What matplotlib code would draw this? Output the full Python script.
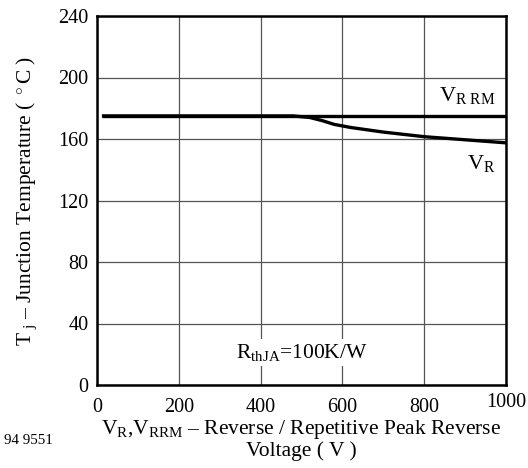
import matplotlib
matplotlib.use("Agg")
import matplotlib.pyplot as plt
from matplotlib.transforms import ScaledTranslation

plt.rcParams['font.family'] = ['Liberation Serif', 'DejaVu Serif']
plt.rcParams['mathtext.fontset'] = 'custom'
plt.rcParams['mathtext.rm'] = 'Liberation Serif'
plt.rcParams['mathtext.it'] = 'Liberation Serif'

# data
vrrm_x = [12, 1000]
vrrm_y = [175, 175]
vr_x = [12, 480, 520, 550, 580, 620, 700, 800, 900, 1000]
vr_y = [175, 175, 174, 172, 169.5, 167.5, 164.5, 161.5, 159.5, 157.5]

x_ticks = [0, 200, 400, 600, 800, 1000]
y_ticks = [0, 40, 80, 120, 160, 200, 240]

fig = plt.figure(figsize=(5.28, 4.68), dpi=100)
ax = fig.add_axes([97 / 528, 1 - 385 / 468, 409 / 528, 369 / 468])

ax.plot(vrrm_x, vrrm_y, color='black', lw=2.4, solid_capstyle='butt', zorder=3)
ax.plot(vr_x, vr_y, color='black', lw=2.4, solid_capstyle='butt', zorder=3)

ax.set_xlim(0, 1000)
ax.set_ylim(0, 240)
ax.set_xticks(x_ticks)
ax.set_yticks(y_ticks)
ax.tick_params(length=0, labelsize=14.5)
ax.tick_params(axis='y', pad=6)
ax.tick_params(axis='x', pad=9)
ax.grid(True, color='#555555', lw=0.9)
for s in ax.spines.values():
    s.set_linewidth(1.8)

# the 1000 label sits a little higher in the original
lbl = ax.get_xticklabels()[-1]
lbl.set_transform(lbl.get_transform() + ScaledTranslation(0, 3 / 72, fig.dpi_scale_trans))

ax.text(975, 188, r'V$_{\rm R\ RM}$', fontsize=16, ha='right', va='center')
ax.text(975, 144, r'V$_{\rm R}$', fontsize=16, ha='right', va='center')
ax.text(500, 21, r'R$_{\rm thJA}$=100K/W', fontsize=15.5, ha='center', va='center',
        bbox=dict(facecolor='white', edgecolor='none', pad=2), zorder=4)

ax.set_xlabel(r'V$_{\rm R}$,V$_{\rm RRM}$ – Reverse / Repetitive Peak Reverse' + '\nVoltage ( V )',
              fontsize=15.5, labelpad=1, linespacing=1.0)
ax.set_ylabel(r'T$_{\rm \ j}$ – Junction Temperature ( $^\circ$C )', fontsize=15.5, labelpad=14)

fig.text(4 / 528, 1 - 441 / 468, '94 9551', fontsize=10.8, va='center')

plt.savefig('out.png', dpi=100)
plt.close()
